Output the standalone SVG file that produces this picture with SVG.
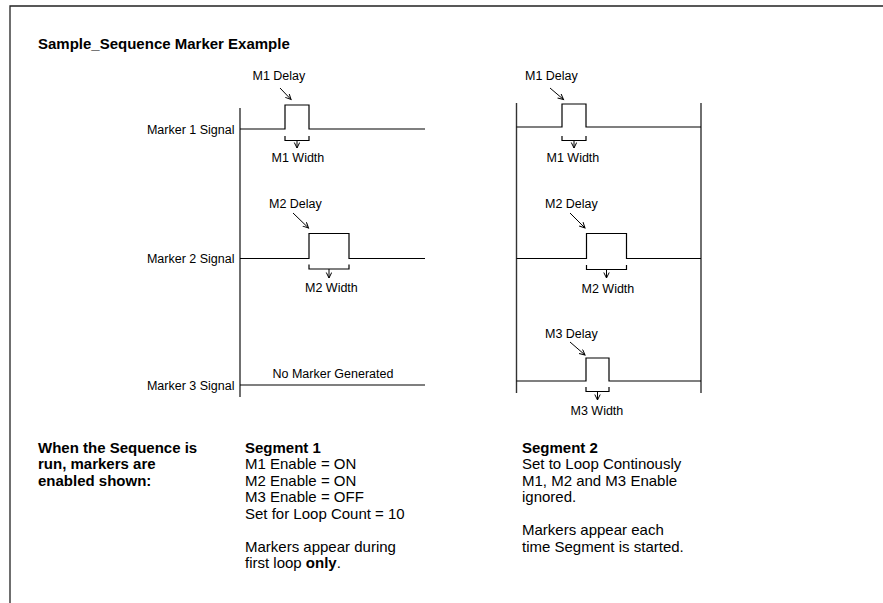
<svg xmlns="http://www.w3.org/2000/svg" width="883" height="603" viewBox="0 0 883 603">
<defs>
<style>
.ln{fill:none;stroke:#000;stroke-width:1.2}
.ax{fill:none;stroke:#333;stroke-width:1.4}
.fr{fill:none;stroke:#222;stroke-width:1.3}
.arr{fill:none;stroke:#000;stroke-width:1;marker-end:url(#ah)}
text{font-family:"Liberation Sans",Arial,sans-serif;fill:#000}
.lbl{font-size:12.5px}
.txt{font-size:15px}
.b{font-weight:bold}
</style>
<marker id="ah" markerUnits="userSpaceOnUse" markerWidth="8" markerHeight="8" refX="6" refY="3" orient="auto" viewBox="0 0 8 8">
<path d="M0.5,0.3 L6,3 L0.5,5.7" fill="none" stroke="#000" stroke-width="1"/>
</marker>
</defs>
<rect width="883" height="603" fill="#fff"/>
<g id="frame">
<path class="fr" d="M10,603 V6 H883"/>
</g>
<g id="title"><text class="txt b" x="38" y="49">Sample_Sequence Marker Example</text></g>

<g id="segment1-diagram">
<line class="ax" x1="240" y1="108" x2="240" y2="397"/>
<g id="s1-marker1">
<text class="lbl" x="234.5" y="134" text-anchor="end">Marker 1 Signal</text>
<path class="ln" d="M240,129 H285 V105 H309 V129 H425"/>
<path class="ln" d="M285,136 V140.5 H309 V136"/>
<text class="lbl" x="252.5" y="80">M1 Delay</text>
<text class="lbl" x="271.5" y="161.5">M1 Width</text>
</g>
<g id="s1-marker2">
<text class="lbl" x="234.5" y="263" text-anchor="end">Marker 2 Signal</text>
<path class="ln" d="M240,258.5 H309 V233.5 H349 V258.5 H425"/>
<path class="ln" d="M309,264.5 V269 H349 V264.5"/>
<text class="lbl" x="269" y="208">M2 Delay</text>
<text class="lbl" x="305" y="292">M2 Width</text>
</g>
<g id="s1-marker3">
<text class="lbl" x="234.5" y="390" text-anchor="end">Marker 3 Signal</text>
<path class="ln" d="M240,385 H425"/>
<text class="lbl" x="272.5" y="378">No Marker Generated</text>
</g>
</g>

<g id="segment2-diagram">
<line class="ax" x1="516.5" y1="103" x2="516.5" y2="393"/>
<line class="ax" x1="701" y1="103" x2="701" y2="393"/>
<g id="s2-marker1">
<path class="ln" d="M516.5,127 H562 V104 H586 V127 H701"/>
<path class="ln" d="M562,136 V140.5 H586 V136"/>
<text class="lbl" x="525" y="80">M1 Delay</text>
<text class="lbl" x="546.5" y="161.5">M1 Width</text>
</g>
<g id="s2-marker2">
<path class="ln" d="M516.5,258.5 H586.5 V233.5 H626.5 V258.5 H701"/>
<path class="ln" d="M586.5,265 V269.5 H626.5 V265"/>
<text class="lbl" x="545" y="208">M2 Delay</text>
<text class="lbl" x="581.5" y="292.5">M2 Width</text>
</g>
<g id="s2-marker3">
<path class="ln" d="M516.5,381 H586 V358 H609 V381 H701"/>
<path class="ln" d="M586,387 V391.5 H609 V387"/>
<text class="lbl" x="545" y="338">M3 Delay</text>
<text class="lbl" x="570.5" y="415">M3 Width</text>
</g>
</g>

<g id="connectors">
<path class="arr" d="M280,88 L291,99.5"/>
<path class="arr" d="M297,140.5 V148"/>
<path class="arr" d="M293,213 L308.5,228"/>
<path class="arr" d="M329,269 V278"/>
<path class="arr" d="M550,88 L563.5,99.5"/>
<path class="arr" d="M574,140.5 V148"/>
<path class="arr" d="M570,213 L585,228"/>
<path class="arr" d="M606.5,269.5 V278"/>
<path class="arr" d="M570,342 L585,355"/>
<path class="arr" d="M597.5,391.5 V400"/>
</g>

<g id="note-intro">
<text class="txt b" x="38" y="452.5">When the Sequence is</text>
<text class="txt b" x="38" y="469">run, markers are</text>
<text class="txt b" x="38" y="485.5">enabled shown:</text>
</g>
<g id="note-segment1">
<text class="txt b" x="245" y="452.5">Segment 1</text>
<text class="txt" x="245" y="469">M1 Enable = ON</text>
<text class="txt" x="245" y="485.5">M2 Enable = ON</text>
<text class="txt" x="245" y="502">M3 Enable = OFF</text>
<text class="txt" x="245" y="518.5">Set for Loop Count = 10</text>
<text class="txt" x="245" y="551.5">Markers appear during</text>
<text class="txt" x="245" y="568">first loop <tspan class="b">only</tspan>.</text>
</g>
<g id="note-segment2">
<text class="txt b" x="522" y="452.5">Segment 2</text>
<text class="txt" x="522" y="469">Set to Loop Continously</text>
<text class="txt" x="522" y="485.5">M1, M2 and M3 Enable</text>
<text class="txt" x="522" y="502">ignored.</text>
<text class="txt" x="522" y="535">Markers appear each</text>
<text class="txt" x="522" y="551.5">time Segment is started.</text>
</g>
</svg>
